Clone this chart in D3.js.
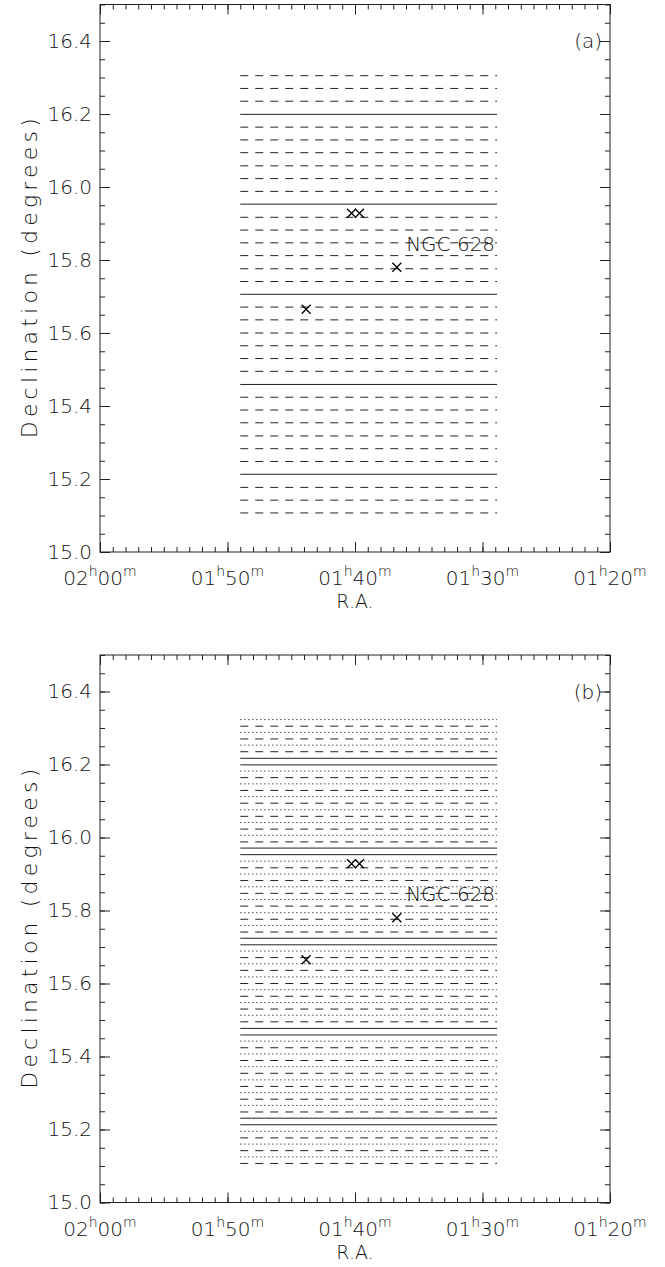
<!DOCTYPE html>
<html>
<head>
<meta charset="utf-8">
<script src="https://cdn.jsdelivr.net/npm/d3@7"></script>
<style>
  html, body { margin: 0; padding: 0; background: #fff; }
  svg { display: block; }
  text { font-family: 'DejaVu Sans', 'Liberation Sans', sans-serif; font-weight: 200; fill: #111; }
</style>
</head>
<body>
<svg id="chart" width="665" height="1267"></svg>
<script>
// ---------------- data ----------------
// R.A. in minutes of time (02h00m = 120), declination in degrees
const raTicks = [120, 110, 100, 90, 80];
const raTickLabels = [["02", "00"], ["01", "50"], ["01", "40"], ["01", "30"], ["01", "20"]];
const decTicks = [15.0, 15.2, 15.4, 15.6, 15.8, 16.0, 16.2, 16.4];
const decTickLabels = ["15.0", "15.2", "15.4", "15.6", "15.8", "16.0", "16.2", "16.4"];

// drift-scan extent in R.A. (minutes)
const scanRA = [109.0, 88.86];

// panel (a) scan lines
const decA = [16.305, 16.270, 16.235, 16.199, 16.164, 16.129, 16.094, 16.058, 16.023, 15.988,
              15.953, 15.917, 15.882, 15.847, 15.812, 15.776, 15.741, 15.706, 15.671, 15.636,
              15.600, 15.565, 15.530, 15.495, 15.459, 15.424, 15.389, 15.354, 15.318, 15.283,
              15.248, 15.213, 15.177, 15.142, 15.107];
const styleA = ["dash","dash","dash","solid","dash","dash","dash","dash","dash","dash",
                "solid","dash","dash","dash","dash","dash","dash","solid","dash","dash",
                "dash","dash","dash","dash","solid","dash","dash","dash","dash","dash",
                "dash","solid","dash","dash","dash"];
// extra interleaved scan lines of panel (b)
const decB = [16.323, 16.288, 16.253, 16.217, 16.182, 16.147, 16.112, 16.076, 16.041, 16.006,
              15.971, 15.935, 15.900, 15.865, 15.830, 15.794, 15.759, 15.724, 15.689, 15.654,
              15.618, 15.583, 15.548, 15.513, 15.477, 15.442, 15.407, 15.372, 15.336, 15.301,
              15.266, 15.231, 15.195, 15.160, 15.125];
const styleB = ["dot","dot","dot","solid","dot","dot","dot","dot","dot","dot",
                "solid","dot","dot","dot","dot","dot","dot","solid","dot","dot",
                "dot","dot","dot","dot","solid","dot","dot","dot","dot","dot",
                "dot","solid","dot","dot","dot"];

// galaxies (crosses)
const srcRA  = [100.27, 99.65, 96.72, 103.83];
const srcDec = [15.928, 15.928, 15.780, 15.665];
const labelText = "NGC 628";
const labelRA = 95.99, labelDec = 15.825;

const panelTags = ["(a)", "(b)"];

// ---------------- drawing ----------------
const svg = d3.select("#chart");
const x = d3.scaleLinear().domain([120, 80]).range([100, 610]);
const y = d3.scaleLinear().domain([15.0, 16.5]).range([552, 4.5]);
const dashes = { solid: null, dash: "8,7", dot: "1.2,2.8" };

function minorTicks(lo, hi, step) {
  const out = [];
  const n = Math.round((hi - lo) / step);
  for (let i = 0; i <= n; i++) out.push(+(lo + i * step).toFixed(4));
  return out;
}
const raMinor = minorTicks(80, 120, 1);
const decMinor = minorTicks(15.0, 16.5, 0.05);

function drawPanel(offset, sets, tag) {
  const g = svg.append("g").attr("transform", `translate(0,${offset})`);
  const [x0, x1] = x.range();
  const [yb, yt] = y.range();

  // scan lines
  sets.forEach(([decs, styles]) => {
    g.append("g").selectAll("line").data(decs).join("line")
      .attr("x1", x(scanRA[0])).attr("x2", x(scanRA[1]))
      .attr("y1", d => y(d)).attr("y2", d => y(d))
      .attr("stroke", "#222").attr("stroke-width", 1)
      .attr("stroke-dasharray", (d, i) => dashes[styles[i]]);
  });

  // axes (ticks inward)
  const addAxis = (gen, tx, ty) => {
    const a = g.append("g").attr("transform", `translate(${tx},${ty})`).call(gen);
    a.select(".domain").remove();
    a.selectAll("line").attr("stroke", "#222").attr("stroke-width", 1);
    return a;
  };
  addAxis(d3.axisBottom(x).tickValues(raMinor).tickSize(-5).tickFormat(""), 0, yb);
  addAxis(d3.axisBottom(x).tickValues(raTicks).tickSize(-10).tickFormat(""), 0, yb);
  addAxis(d3.axisTop(x).tickValues(raMinor).tickSize(-5).tickFormat(""), 0, yt);
  addAxis(d3.axisTop(x).tickValues(raTicks).tickSize(-10).tickFormat(""), 0, yt);
  addAxis(d3.axisLeft(y).tickValues(decMinor).tickSize(-5).tickFormat(""), x0, 0);
  const la = addAxis(d3.axisLeft(y).tickValues(decTicks).tickSize(-10).tickPadding(8)
    .tickFormat((d, i) => decTickLabels[i]), x0, 0);
  la.selectAll("text").attr("font-size", 20).attr("font-family", null).attr("fill", null);
  addAxis(d3.axisRight(y).tickValues(decMinor).tickSize(-5).tickFormat(""), x1, 0);
  addAxis(d3.axisRight(y).tickValues(decTicks).tickSize(-10).tickFormat(""), x1, 0);

  // frame
  g.append("rect").attr("x", x0).attr("y", yt).attr("width", x1 - x0).attr("height", yb - yt)
    .attr("fill", "none").attr("stroke", "#222").attr("stroke-width", 1);

  // x tick labels with superscripts
  raTicks.forEach((v, i) => {
    const t = g.append("text").attr("x", x(v)).attr("y", yb + 33)
      .attr("text-anchor", "middle").attr("font-size", 20);
    t.append("tspan").text(raTickLabels[i][0]);
    t.append("tspan").attr("dy", -9).attr("font-size", 14).text("h");
    t.append("tspan").attr("dy", 9).text(raTickLabels[i][1]);
    t.append("tspan").attr("dy", -9).attr("font-size", 14).text("m");
  });

  // axis titles
  g.append("text").attr("x", x(100)).attr("y", yb + 56).attr("text-anchor", "middle")
    .attr("font-size", 19).text("R.A.");
  g.append("text").attr("transform", `translate(37,${(yb + yt) / 2}) rotate(-90)`)
    .attr("text-anchor", "middle").attr("font-size", 22)
    .attr("textLength", 320).attr("lengthAdjust", "spacing")
    .text("Declination (degrees)");

  // panel tag
  g.append("text").attr("x", x1 - 8).attr("y", y(16.4) + 7).attr("text-anchor", "end")
    .attr("font-size", 20).text(tag);

  // crosses
  const s = 4.5;
  srcRA.forEach((ra, i) => {
    const cx = x(ra), cy = y(srcDec[i]);
    g.append("path")
      .attr("d", `M${cx - s},${cy - s}L${cx + s},${cy + s}M${cx - s},${cy + s}L${cx + s},${cy - s}`)
      .attr("stroke", "#000").attr("stroke-width", 1.3).attr("fill", "none");
  });
  g.append("text").attr("x", x(labelRA)).attr("y", y(labelDec))
    .attr("font-size", 20).text(labelText);
}

drawPanel(0, [[decA, styleA]], panelTags[0]);
drawPanel(650.5, [[decB, styleB], [decA, styleA]], panelTags[1]);
</script>
</body>
</html>
